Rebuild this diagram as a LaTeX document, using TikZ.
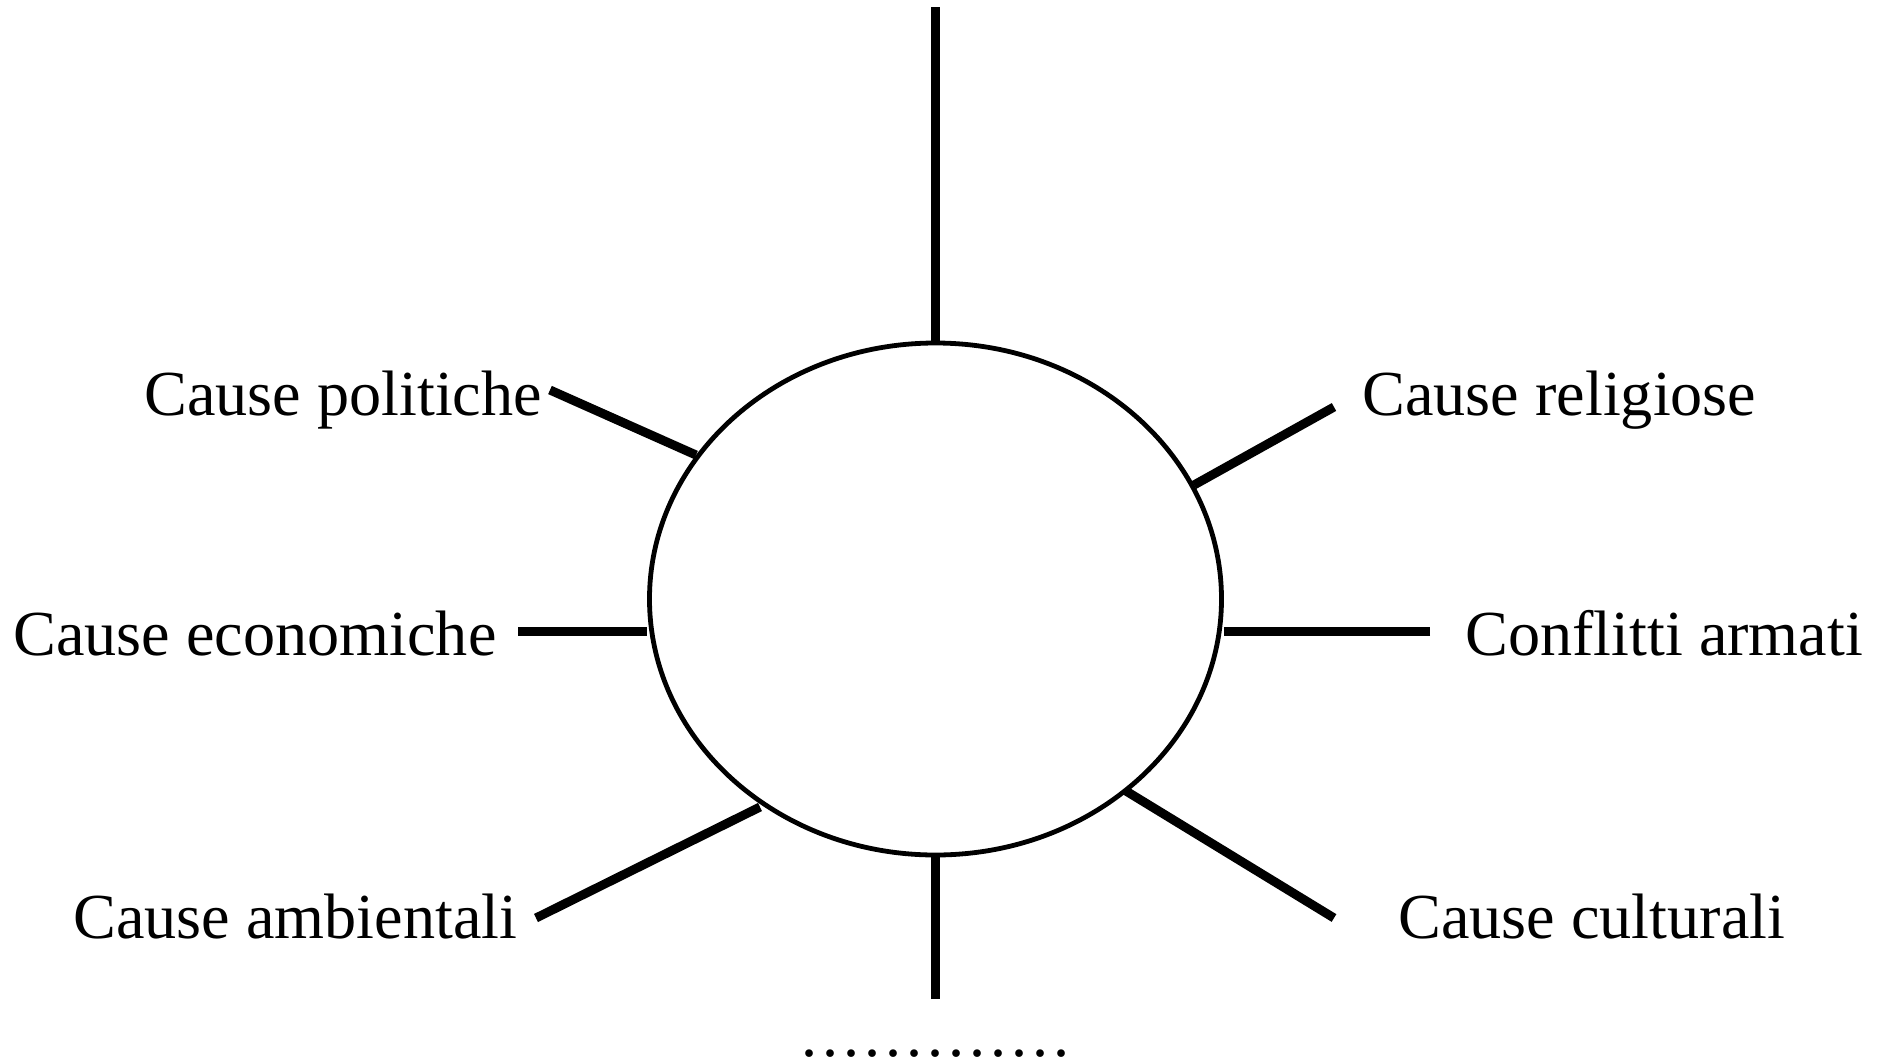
\documentclass[tikz,border=0pt]{standalone}
\usepackage{fontspec}
\setmainfont{Liberation Serif}
\usetikzlibrary{shapes.geometric}
\begin{document}
\begin{tikzpicture}[x=0.5pt,y=-0.5pt,
  lbl/.style={inner sep=0pt, font=\fontsize{32.1pt}{38pt}\selectfont},
  spoke/.style={line width=4.5pt, black},
  ring/.style={draw, ellipse, line width=2.4pt, minimum width=286pt, minimum height=256pt, inner sep=0pt}]
\useasboundingbox (0,0) rectangle (1881,1061);
\node[ring] (e) at (935.5,599) {};
% labels
\node[lbl, anchor=base west] (pol) at (144,415) {Cause politiche};
\node[lbl, anchor=base west] (rel) at (1362,415) {Cause religiose};
\node[lbl, anchor=base west] (eco) at (13,655) {Cause economiche};
\node[lbl, anchor=base west] (con) at (1465,655) {Conflitti armati};
\node[lbl, anchor=base west] (amb) at (73,938) {Cause ambientali};
\node[lbl, anchor=base west] (cul) at (1398,938) {Cause culturali};
\node[lbl, anchor=base west] (dots) at (801,1056) {.\kern2.5pt.\kern2.5pt.\kern2.5pt.\kern2.5pt.\kern2.5pt.\kern2.5pt.\kern2.5pt.\kern2.5pt.\kern2.5pt.\kern2.5pt.\kern2.5pt.\kern2.5pt.};
% spoke end points
\coordinate (top0) at (935,7);      \coordinate (top1) at (935,342);
\coordinate (bot0) at (935,857);    \coordinate (bot1) at (935,999);
\coordinate (pol0) at (550,390);    \coordinate (pol1) at (696,455);
\coordinate (rel0) at (1334,407);   \coordinate (rel1) at (1194,485);
\coordinate (eco0) at (518,631);    \coordinate (eco1) at (647,631);
\coordinate (con0) at (1430,631);   \coordinate (con1) at (1224,631);
\coordinate (amb0) at (536,918);    \coordinate (amb1) at (760,807);
\coordinate (cul0) at (1334,918);   \coordinate (cul1) at (1126,791);
% spokes
\draw[spoke] (top0) -- (top1);
\draw[spoke] (bot1) -- (bot0);
\draw[spoke] (pol0) -- (pol1);
\draw[spoke] (rel0) -- (rel1);
\draw[spoke] (eco0) -- (eco1);
\draw[spoke] (con0) -- (con1);
\draw[spoke] (amb0) -- (amb1);
\draw[spoke] (cul0) -- (cul1);
\end{tikzpicture}
\end{document}
